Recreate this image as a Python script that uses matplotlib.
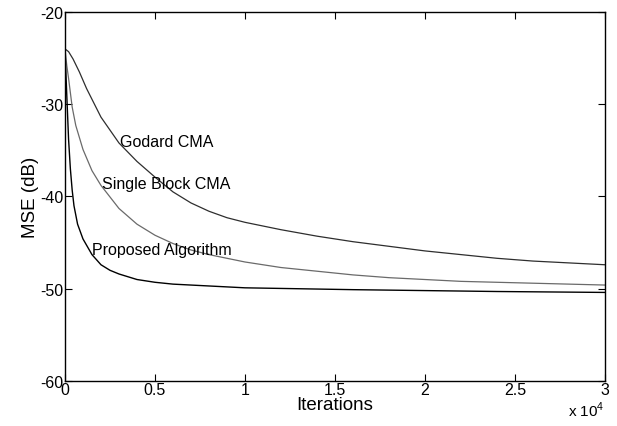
import numpy as np
import matplotlib
matplotlib.use('Agg')
import matplotlib.pyplot as plt
from matplotlib.ticker import FuncFormatter

plt.rcParams['font.family'] = ['Liberation Sans', 'DejaVu Sans']
plt.rcParams['axes.unicode_minus'] = False
plt.rcParams['mathtext.fontset'] = 'custom'
plt.rcParams['mathtext.rm'] = 'Liberation Sans'

# ---- data (iterations, MSE in dB) ----
godard_x = [0, 200, 450, 800, 1200, 2000, 3000, 4000, 5000, 6000, 7000, 8000,
            9000, 10000, 12000, 14000, 16000, 18000, 20000, 22000, 24000,
            26000, 28000, 30000]
godard_y = [-24.0, -24.3, -25.1, -26.5, -28.3, -31.4, -34.2, -36.2, -37.9,
            -39.5, -40.7, -41.6, -42.3, -42.8, -43.6, -44.3, -44.9, -45.4,
            -45.9, -46.3, -46.7, -47.0, -47.2, -47.4]

single_x = [0, 100, 200, 400, 600, 1000, 1500, 2000, 3000, 4000, 5000, 6000,
            7000, 8000, 9000, 10000, 12000, 14000, 16000, 18000, 20000,
            22000, 24000, 26000, 28000, 30000]
single_y = [-24.0, -25.8, -27.2, -30.3, -32.3, -34.9, -37.2, -38.8, -41.3,
            -43.0, -44.2, -45.1, -45.8, -46.3, -46.7, -47.1, -47.7, -48.1,
            -48.5, -48.8, -49.0, -49.2, -49.3, -49.4, -49.5, -49.6]

prop_x = [0, 100, 200, 300, 400, 500, 700, 1000, 1500, 2000, 2500, 3000,
          4000, 5000, 6000, 8000, 10000, 13000, 16000, 20000, 24000, 30000]
prop_y = [-24.0, -29.0, -33.8, -37.0, -39.3, -41.0, -43.0, -44.6, -46.3,
          -47.4, -48.0, -48.4, -49.0, -49.3, -49.5, -49.7, -49.9, -50.0,
          -50.1, -50.2, -50.3, -50.4]

xticks = [0, 5000, 10000, 15000, 20000, 25000, 30000]
yticks = [-60, -50, -40, -30, -20]

fig = plt.figure(figsize=(6.17, 4.27), dpi=100)
ax = fig.add_axes([0.1053, 0.1054, 0.8752, 0.8642])

ax.plot(godard_x, godard_y, color='#2e2e2e', linewidth=0.9)
ax.plot(single_x, single_y, color='#6a6a6a', linewidth=0.9)
ax.plot(prop_x, prop_y, color='#000000', linewidth=1.0)

ax.text(3050, -34.0, 'Godard CMA', fontsize=11.5, va='center', ha='left')
ax.text(2050, -38.6, 'Single Block CMA', fontsize=11.5, va='center', ha='left')
ax.text(1500, -45.7, 'Proposed Algorithm', fontsize=11.5, va='center', ha='left')

ax.set_xlim(0, 30000)
ax.set_ylim(-60, -20)
ax.set_xticks(xticks)
ax.set_yticks(yticks)
ax.xaxis.set_major_formatter(FuncFormatter(lambda v, p: f"{v / 1e4:g}"))
ax.tick_params(direction='in', top=True, right=True, length=5, width=0.8,
               labelsize=11.5, pad=1)
for s in ax.spines.values():
    s.set_linewidth(1.0)

ax.set_xlabel('Iterations', fontsize=13.5, labelpad=-1)
ax.set_ylabel('MSE (dB)', fontsize=13.5, labelpad=1)
fig.text(0.921, 0.038, r'x 10$^{\mathregular{4}}$', fontsize=11, ha='left', va='center')

fig.savefig('out.png', dpi=100)
